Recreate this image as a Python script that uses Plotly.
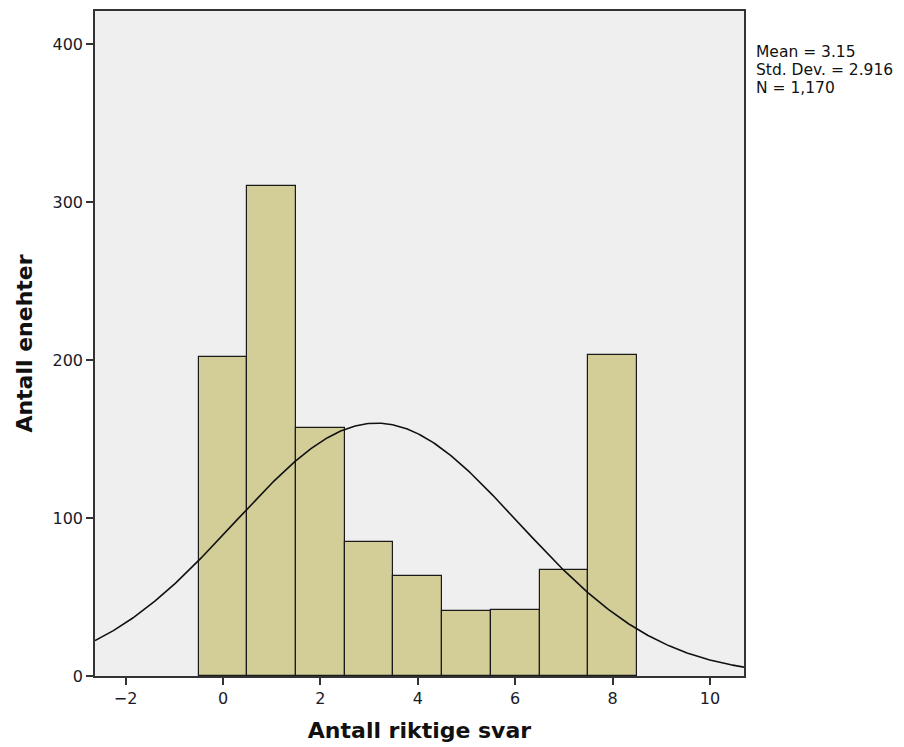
import numpy as np
import plotly.graph_objects as go

# Data
categories = [0, 1, 2, 3, 4, 5, 6, 7, 8]
counts = [202, 310, 157, 85, 63, 41, 42, 67, 203]
mean_val = 3.15
std_val = 2.916
n_val = 1170
x_tick_vals = [-2, 0, 2, 4, 6, 8, 10]
y_tick_vals = [0, 100, 200, 300, 400]
stats_lines = [f"Mean = {mean_val:.2f}", f"Std. Dev. = {std_val:.3f}", f"N = {n_val:,}"]

x_range = [-2.63, 10.7]
y_range = [0, 421]

# Fitted normal curve (scaled to counts with bin width 1)
xs = np.linspace(x_range[0], x_range[1], 400)
ys = n_val * 1.0 / (std_val * np.sqrt(2 * np.pi)) * np.exp(-0.5 * ((xs - mean_val) / std_val) ** 2)

fig = go.Figure()
fig.add_trace(go.Bar(
    x=categories, y=counts, width=1.0,
    marker=dict(color="#D3CE97", line=dict(color="#1a1a1a", width=1.2)),
    showlegend=False, hoverinfo="x+y",
))
fig.add_trace(go.Scatter(
    x=xs, y=ys, mode="lines",
    line=dict(color="#111111", width=1.6),
    showlegend=False, hoverinfo="skip",
))

font_family = "DejaVu Sans, Open Sans, sans-serif"

plot_h = 747 - 11 - 71
annotations = []
for i, line in enumerate(stats_lines):
    y_px = 52 + 18 * i  # center in pixels from top
    annotations.append(dict(
        xref="paper", yref="paper", x=1.016, y=(676 - y_px) / plot_h,
        xanchor="left", yanchor="middle", align="left", showarrow=False,
        text=line, font=dict(size=15.5, color="#111"),
    ))

fig.update_layout(
    width=904, height=747,
    margin=dict(l=95, r=160, t=11, b=71),
    paper_bgcolor="white",
    plot_bgcolor="#EFEFEF",
    bargap=0,
    font=dict(family=font_family, size=16, color="#1a1a2a"),
    xaxis=dict(
        range=x_range, tickvals=x_tick_vals, ticks="outside", ticklen=7,
        tickwidth=1.5, tickcolor="#333", showline=True, linecolor="#333",
        linewidth=1.5, mirror=True, showgrid=False, zeroline=False,
        tickfont=dict(size=16), automargin=False,
        title=dict(text="<b>Antall riktige svar</b>", font=dict(size=22, color="#111"), standoff=16),
    ),
    yaxis=dict(
        range=y_range, tickvals=y_tick_vals, ticks="outside", ticklen=7,
        tickwidth=1.5, tickcolor="#333", showline=True, linecolor="#333",
        linewidth=1.5, mirror=True, showgrid=False, zeroline=False,
        tickfont=dict(size=16), automargin=False,
        title=dict(text="<b>Antall enehter</b>", font=dict(size=22, color="#111"), standoff=14),
    ),
    annotations=annotations,
)

fig.write_html("out.html")
